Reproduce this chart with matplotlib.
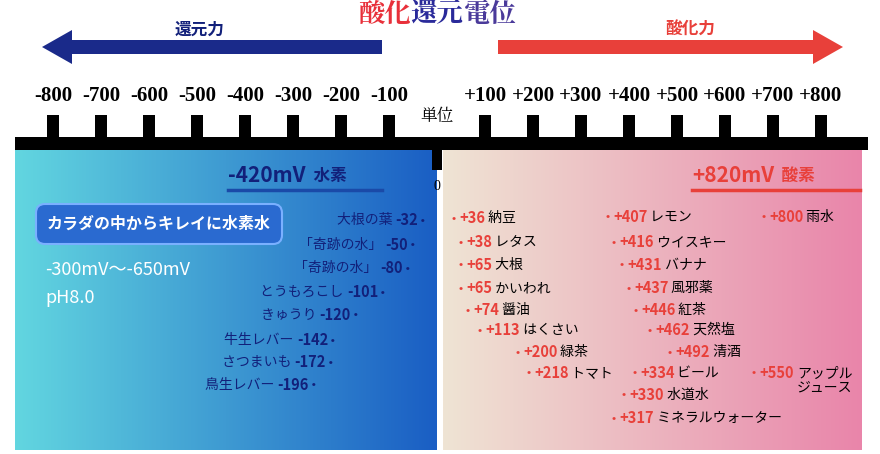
import matplotlib
matplotlib.use("Agg")
import matplotlib.pyplot as plt
import numpy as np
from matplotlib.patches import FancyBboxPatch, FancyArrow
from matplotlib.colors import LinearSegmentedColormap

plt.rcParams['font.family'] = ['Noto Sans CJK JP', 'DejaVu Sans']

ticks = [-800, -700, -600, -500, -400, -300, -200, -100, 100, 200, 300, 400, 500, 600, 700, 800]
tick_labels = ['-800', '-700', '-600', '-500', '-400', '-300', '-200', '-100',
               '+100', '+200', '+300', '+400', '+500', '+600', '+700', '+800']

left_names = ['大根の葉', '「奇跡の水」', '「奇跡の水」', 'とうもろこし', 'きゅうり', '牛生レバー', 'さつまいも', '鳥生レバー']
left_vals = ['-32', '-50', '-80', '-101', '-120', '-142', '-172', '-196']
right1_vals = ['+36', '+38', '+65', '+65', '+74', '+113', '+200', '+218']
right1_names = ['納豆', 'レタス', '大根', 'かいわれ', '醤油', 'はくさい', '緑茶', 'トマト']
right2_vals = ['+407', '+416', '+431', '+437', '+446', '+462', '+492', '+334', '+330', '+317']
right2_names = ['レモン', 'ウイスキー', 'バナナ', '風邪薬', '紅茶', '天然塩', '清酒', 'ビール', '水道水', 'ミネラルウォーター']
right3_vals = ['+800', '+550']
right3_names = ['雨水', 'アップル\nジュース']

W, H = 880, 454
fig = plt.figure(figsize=(8.8, 4.54), dpi=100)
ax = fig.add_axes([0, 0, 1, 1])
ax.set_xlim(0, W); ax.set_ylim(H, 0); ax.axis('off')

def mv2x(v):
    return 437 + v * 0.48

NAVY = '#12207a'; RED = '#e8403a'

g = np.linspace(0, 1, 256).reshape(1, -1)
ax.imshow(g, cmap=LinearSegmentedColormap.from_list('l', ['#62d6e0', '#1a5ec4']),
          extent=[15, 437, 450, 148], aspect='auto', zorder=0)
ax.imshow(g, cmap=LinearSegmentedColormap.from_list('r', ['#efe4d4', '#e985aa']),
          extent=[443, 862, 450, 148], aspect='auto', zorder=0)

fig.canvas.draw()
r = fig.canvas.get_renderer()

def segs(x, y, parts, ha='left', va='center', family=None):
    ws = []
    objs = []
    for t, c, w, s in parts:
        kw = {'family': family} if family else {}
        o = ax.text(0, y, t, color=c, fontweight=w, fontsize=s, va=va, ha='left', **kw)
        ws.append(o.get_window_extent(r).width)
        objs.append(o)
    tot = sum(ws)
    cx = x if ha == 'left' else (x - tot if ha == 'right' else x - tot / 2)
    for o, w in zip(objs, ws):
        o.set_x(cx); cx += w

segs(437, 14, [('酸化', '#e8303a', 'bold', 19), ('還元', '#2a2a9a', 'bold', 19), ('電位', '#4a3a9a', 'bold', 19)],
     ha='center', family=['Noto Serif CJK JP', 'Noto Sans CJK JP'])

ax.add_patch(FancyArrow(382, 47, -340, 0, width=14, head_width=34, head_length=30,
                        length_includes_head=True, color='#1a2a8a', lw=0))
ax.add_patch(FancyArrow(498, 47, 345, 0, width=14, head_width=34, head_length=30,
                        length_includes_head=True, color='#e8403a', lw=0))
ax.text(200, 30, '還元力', color=NAVY, fontsize=12, fontweight='bold', ha='center', va='center')
ax.text(690, 30, '酸化力', color=RED, fontsize=12, fontweight='bold', ha='center', va='center')

for v, lab in zip(ticks, tick_labels):
    x = mv2x(v)
    ax.text(x, 96, lab, fontsize=15, fontweight='bold', family='Liberation Serif',
            ha='center', va='center', color='black')
    ax.add_patch(plt.Rectangle((x - 6, 115), 12, 28, color='black', lw=0))
ax.add_patch(plt.Rectangle((15, 137), 853, 13, color='black', lw=0))
ax.add_patch(plt.Rectangle((mv2x(0) - 5, 148), 10, 22, color='black', lw=0))
ax.text(mv2x(0), 116, '単位', fontsize=12, ha='center', va='center', color='black',
        family=['Noto Serif CJK JP', 'Noto Sans CJK JP'])
ax.text(mv2x(0), 186, '0', fontsize=10, family='Liberation Serif', ha='center', va='center')

segs(228, 176, [('-420mV', NAVY, 'bold', 15), ('  水素', NAVY, 'bold', 12)])
ax.plot([228, 382], [190, 190], color='#1a4aa8', lw=2.5)
segs(692, 176, [('+820mV', RED, 'bold', 15), ('  酸素', RED, 'bold', 12)])
ax.plot([692, 860], [190, 190], color=RED, lw=2.5)

ax.add_patch(FancyBboxPatch((36, 204), 246, 40, boxstyle='round,pad=0,rounding_size=9',
                            fc='#2a6ad0', ec='#7ab0ff', lw=1.5))
ax.text(159, 224, 'カラダの中からキレイに水素水', color='white', fontsize=11.5,
        fontweight='bold', ha='center', va='center')
ax.text(45, 270, '-300mV〜-650mV', color='white', fontsize=13, va='center')
ax.text(45, 298, 'pH8.0', color='white', fontsize=13, va='center')

left_x = [425, 415, 410, 385, 358, 335, 333, 316]
left_y = [220, 245, 268, 292, 315, 340, 362, 385]
for n, v, x, y in zip(left_names, left_vals, left_x, left_y):
    segs(x, y, [(n + ' ', NAVY, 'normal', 10), (v, NAVY, 'bold', 10.5), (' •', NAVY, 'normal', 9)], ha='right')

r1x = [452, 459, 459, 459, 466, 478, 516, 527]
r1y = [218, 242, 265, 288, 310, 330, 352, 373]
for v, n, x, y in zip(right1_vals, right1_names, r1x, r1y):
    segs(x, y, [('• ', RED, 'normal', 9), (v, RED, 'bold', 10.5), (' ' + n, 'black', 'normal', 10)])
r2x = [606, 612, 620, 627, 634, 648, 668, 633, 622, 612]
r2y = [217, 242, 265, 288, 310, 330, 352, 373, 395, 418]
for v, n, x, y in zip(right2_vals, right2_names, r2x, r2y):
    segs(x, y, [('• ', RED, 'normal', 9), (v, RED, 'bold', 10.5), (' ' + n, 'black', 'normal', 10)])
segs(762, 217, [('• ', RED, 'normal', 9), (right3_vals[0], RED, 'bold', 10.5), (' ' + right3_names[0], 'black', 'normal', 10)])
segs(752, 373, [('• ', RED, 'normal', 9), (right3_vals[1], RED, 'bold', 10.5)])
ax.text(797, 381, right3_names[1], fontsize=10, color='black', va='center', linespacing=1.0)

fig.savefig('out.png', dpi=100)
